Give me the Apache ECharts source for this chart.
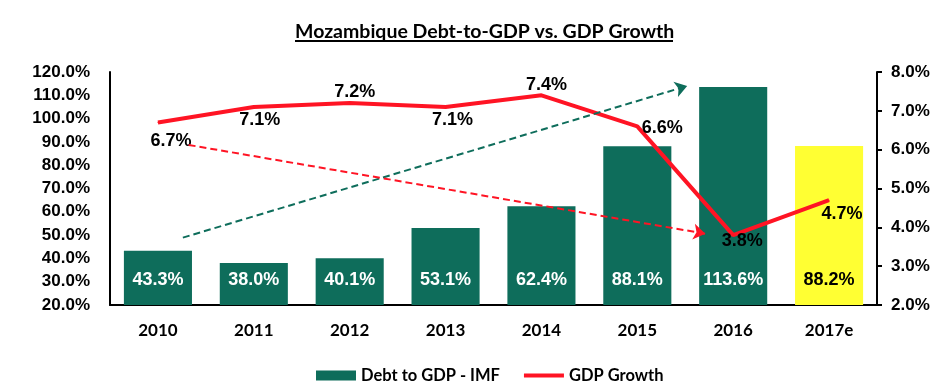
<!DOCTYPE html>
<html><head><meta charset="utf-8">
<script src="https://cdn.jsdelivr.net/npm/echarts@6/dist/echarts.min.js"></script>
<style>html,body{margin:0;padding:0;background:#fff}#c{width:952px;height:392px}</style>
</head><body><div id="c"></div>
<script>
var categories = ['2010','2011','2012','2013','2014','2015','2016','2017e'];
var debtToGdp = [43.3, 38.0, 40.1, 53.1, 62.4, 88.1, 113.6, 88.2];
var gdpGrowth = [6.7, 7.1, 7.2, 7.1, 7.4, 6.6, 3.8, 4.7];
var leftTicks = [20, 120, 10];
var rightTicks = [2, 8, 1];
// dashed trend arrows in data space: [categoryPosition, debt-axis value]
var greenArrow = [[0.26, 48.9], [5.52, 114.0]];
var redArrow = [[0.32, 88.7], [5.71, 50.6]];

var GREEN = '#0e6d5b', YELLOW = '#ffff33', RED = '#ff1424';
var numFont = '"Liberation Sans", Arial, sans-serif';
var catFont = 'Lato, "Open Sans", sans-serif';

var lineLabelPos = [
  {position:'bottom', distance:9, offset:[13,0]},
  {position:'bottom', distance:4, offset:[6,0]},
  {position:'top', distance:2, offset:[5,0]},
  {position:'bottom', distance:4, offset:[7,0]},
  {position:'top', distance:1, offset:[5,0]},
  {position:'right', distance:4, offset:[0,2]},
  {position:'bottom', distance:-4, offset:[9,0]},
  {position:'bottom', distance:4, offset:[13,0]}
];

var chart = echarts.init(document.getElementById('c'));
chart.setOption({
  animation: false,
  title: {
    text: 'Mozambique Debt-to-GDP vs. GDP Growth',
    left: 290, top: 17,
    textStyle: {fontFamily: catFont, fontWeight: 'bold', fontSize: 19.5, color: '#000'}
  },
  graphic: [{type:'line', shape:{x1:295, y1:41, x2:673, y2:41}, style:{stroke:'#000', lineWidth:2}}],
  legend: {
    left: 311, top: 362, itemWidth: 40, itemHeight: 10, itemGap: 24,
    textStyle: {fontFamily: catFont, fontWeight: 'bold', fontSize: 16.5, color: '#000'},
    data: [{name:'Debt to GDP - IMF', icon:'rect'},
           {name:'GDP Growth', icon:'path://M0,0H40V4H0Z'}]
  },
  grid: {left: 110, right: 75, top: 72, bottom: 87, containLabel: false},
  xAxis: [{
    type: 'category', data: categories,
    axisLine: {lineStyle: {color: '#000', width: 2}},
    axisTick: {show: false},
    axisLabel: {fontFamily: catFont, fontWeight: 'bold', fontSize: 17, color: '#000', margin: 17}
  }, {
    type: 'value', min: -0.5, max: 7.5, show: false
  }],
  yAxis: [{
    type: 'value', min: leftTicks[0], max: leftTicks[1], interval: leftTicks[2],
    axisLine: {show: true, onZero: false, lineStyle: {color: '#000', width: 2}},
    axisTick: {show: false},
    splitLine: {show: false},
    axisLabel: {fontFamily: numFont, fontWeight: 'bold', fontSize: 17, color: '#000', margin: 20,
      formatter: function(v){ return v.toFixed(1) + '%'; }}
  }, {
    type: 'value', min: rightTicks[0], max: rightTicks[1], interval: rightTicks[2], position: 'right',
    axisLine: {show: true, onZero: false, lineStyle: {color: '#000', width: 2}},
    axisTick: {show: true, length: 5, lineStyle: {color: '#000', width: 2}},
    splitLine: {show: false},
    axisLabel: {fontFamily: numFont, fontWeight: 'bold', fontSize: 17, color: '#000', margin: 14,
      formatter: function(v){ return v.toFixed(1) + '%'; }}
  }],
  series: [{
    name: 'Debt to GDP - IMF', type: 'bar', barWidth: '71%',
    itemStyle: {color: GREEN},
    data: debtToGdp.map(function(v, i){
      var last = i === debtToGdp.length - 1;
      return {value: v, itemStyle: {color: last ? YELLOW : GREEN},
        label: {color: last ? '#000' : '#fff'}};
    }),
    label: {show: true, position: 'insideBottom', distance: 16,
      fontFamily: numFont, fontWeight: 'bold', fontSize: 18,
      formatter: function(p){ return p.value.toFixed(1) + '%'; }},
    z: 2
  }, {
    name: 'GDP Growth', type: 'line', yAxisIndex: 1,
    symbol: 'circle', symbolSize: 1, showSymbol: true,
    lineStyle: {color: RED, width: 4}, itemStyle: {color: RED},
    data: gdpGrowth.map(function(v, i){
      var p = lineLabelPos[i];
      return {value: v, label: {show: true, position: p.position, distance: p.distance, offset: p.offset}};
    }),
    label: {show: true, fontFamily: numFont, fontWeight: 'bold', fontSize: 18, color: '#000',
      formatter: function(p){ return p.value.toFixed(1) + '%'; }},
    z: 4
  }, {
    name: 'trendA', type: 'line', xAxisIndex: 1, yAxisIndex: 0, symbol: 'none',
    data: greenArrow, lineStyle: {opacity: 0}, silent: true, z: 3,
    markLine: {silent: true, symbol: ['none', 'arrow'], symbolSize: 12, label: {show: false},
      lineStyle: {color: GREEN, width: 2, type: [7, 4]},
      emphasis: {disabled: true},
      data: [[{coord: greenArrow[0]}, {coord: greenArrow[1]}]]}
  }, {
    name: 'trendB', type: 'line', xAxisIndex: 1, yAxisIndex: 0, symbol: 'none',
    data: redArrow, lineStyle: {opacity: 0}, silent: true, z: 3,
    markLine: {silent: true, symbol: ['none', 'arrow'], symbolSize: 12, label: {show: false},
      lineStyle: {color: RED, width: 2, type: [7, 4]},
      emphasis: {disabled: true},
      data: [[{coord: redArrow[0]}, {coord: redArrow[1]}]]}
  }]
});
</script></body></html>
